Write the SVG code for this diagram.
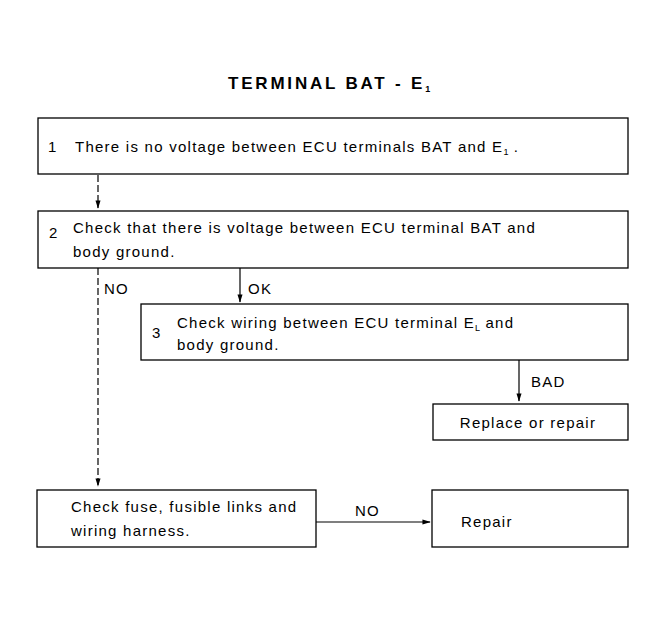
<svg xmlns="http://www.w3.org/2000/svg" width="666" height="623" viewBox="0 0 666 623">
<defs>
<marker id="ah" viewBox="0 0 10 10" refX="9" refY="5" markerWidth="7" markerHeight="7" orient="auto">
<path d="M0,2 L10,5 L0,8 Z" fill="#000"/>
</marker>
<style>
.box{fill:#fff;stroke:#000;stroke-width:1.3}
.t{font-family:"Liberation Sans",Arial,sans-serif;font-size:15px;letter-spacing:1.25px;fill:#000}
.n{font-family:"Liberation Sans",Arial,sans-serif;font-size:15px;fill:#000}
.sub{font-size:9px;letter-spacing:0}
.c{fill:none;stroke:#000;stroke-width:1.2}
.d{stroke-dasharray:7,3}
.title{font-family:"Liberation Sans",Arial,sans-serif;font-size:17px;letter-spacing:2.8px;font-weight:bold;fill:#000}
</style>
</defs>
<rect width="666" height="623" fill="#fff"/>
<text class="title" x="228" y="89">TERMINAL BAT - E<tspan class="sub" dy="3">1</tspan></text>
<g id="connectors">
<line class="c d" x1="98" y1="175" x2="98" y2="208" marker-end="url(#ah)"/>
<line class="c d" x1="98" y1="268" x2="98" y2="486" marker-end="url(#ah)"/>
<line class="c" x1="240" y1="268" x2="240" y2="302" marker-end="url(#ah)"/>
<line class="c" x1="519" y1="360" x2="519" y2="401" marker-end="url(#ah)"/>
<line class="c" x1="316" y1="522" x2="430" y2="522" marker-end="url(#ah)"/>
<text class="t" x="104" y="294">NO</text>
<text class="t" x="248" y="294">OK</text>
<text class="t" x="531" y="387">BAD</text>
<text class="t" x="355" y="516">NO</text>
</g>
<g id="node1">
<rect class="box" x="38" y="118" width="590" height="56"/>
<text class="n" x="48" y="152">1</text>
<text class="t" x="75" y="152">There is no voltage between ECU terminals BAT and E<tspan class="sub" dy="3">1</tspan><tspan dy="-3"> .</tspan></text>
</g>
<g id="node2">
<rect class="box" x="38" y="211" width="590" height="57"/>
<text class="n" x="49" y="238">2</text>
<text class="t" x="73" y="233">Check that there is voltage between ECU terminal BAT and</text>
<text class="t" x="73" y="257">body ground.</text>
</g>
<g id="node3">
<rect class="box" x="141" y="304" width="487" height="56"/>
<text class="n" x="152" y="338">3</text>
<text class="t" x="177" y="328">Check wiring between ECU terminal E<tspan class="sub" dy="3">L</tspan><tspan dy="-3"> and</tspan></text>
<text class="t" x="177" y="350">body ground.</text>
</g>
<g id="node4">
<rect class="box" x="433" y="404" width="195" height="36"/>
<text class="t" x="528" y="428" text-anchor="middle">Replace or repair</text>
</g>
<g id="node5">
<rect class="box" x="37" y="490" width="279" height="57"/>
<text class="t" x="71" y="512">Check fuse, fusible links and</text>
<text class="t" x="71" y="536">wiring harness.</text>
</g>
<g id="node6">
<rect class="box" x="432" y="490" width="196" height="57"/>
<text class="t" x="461" y="527">Repair</text>
</g>
</svg>
